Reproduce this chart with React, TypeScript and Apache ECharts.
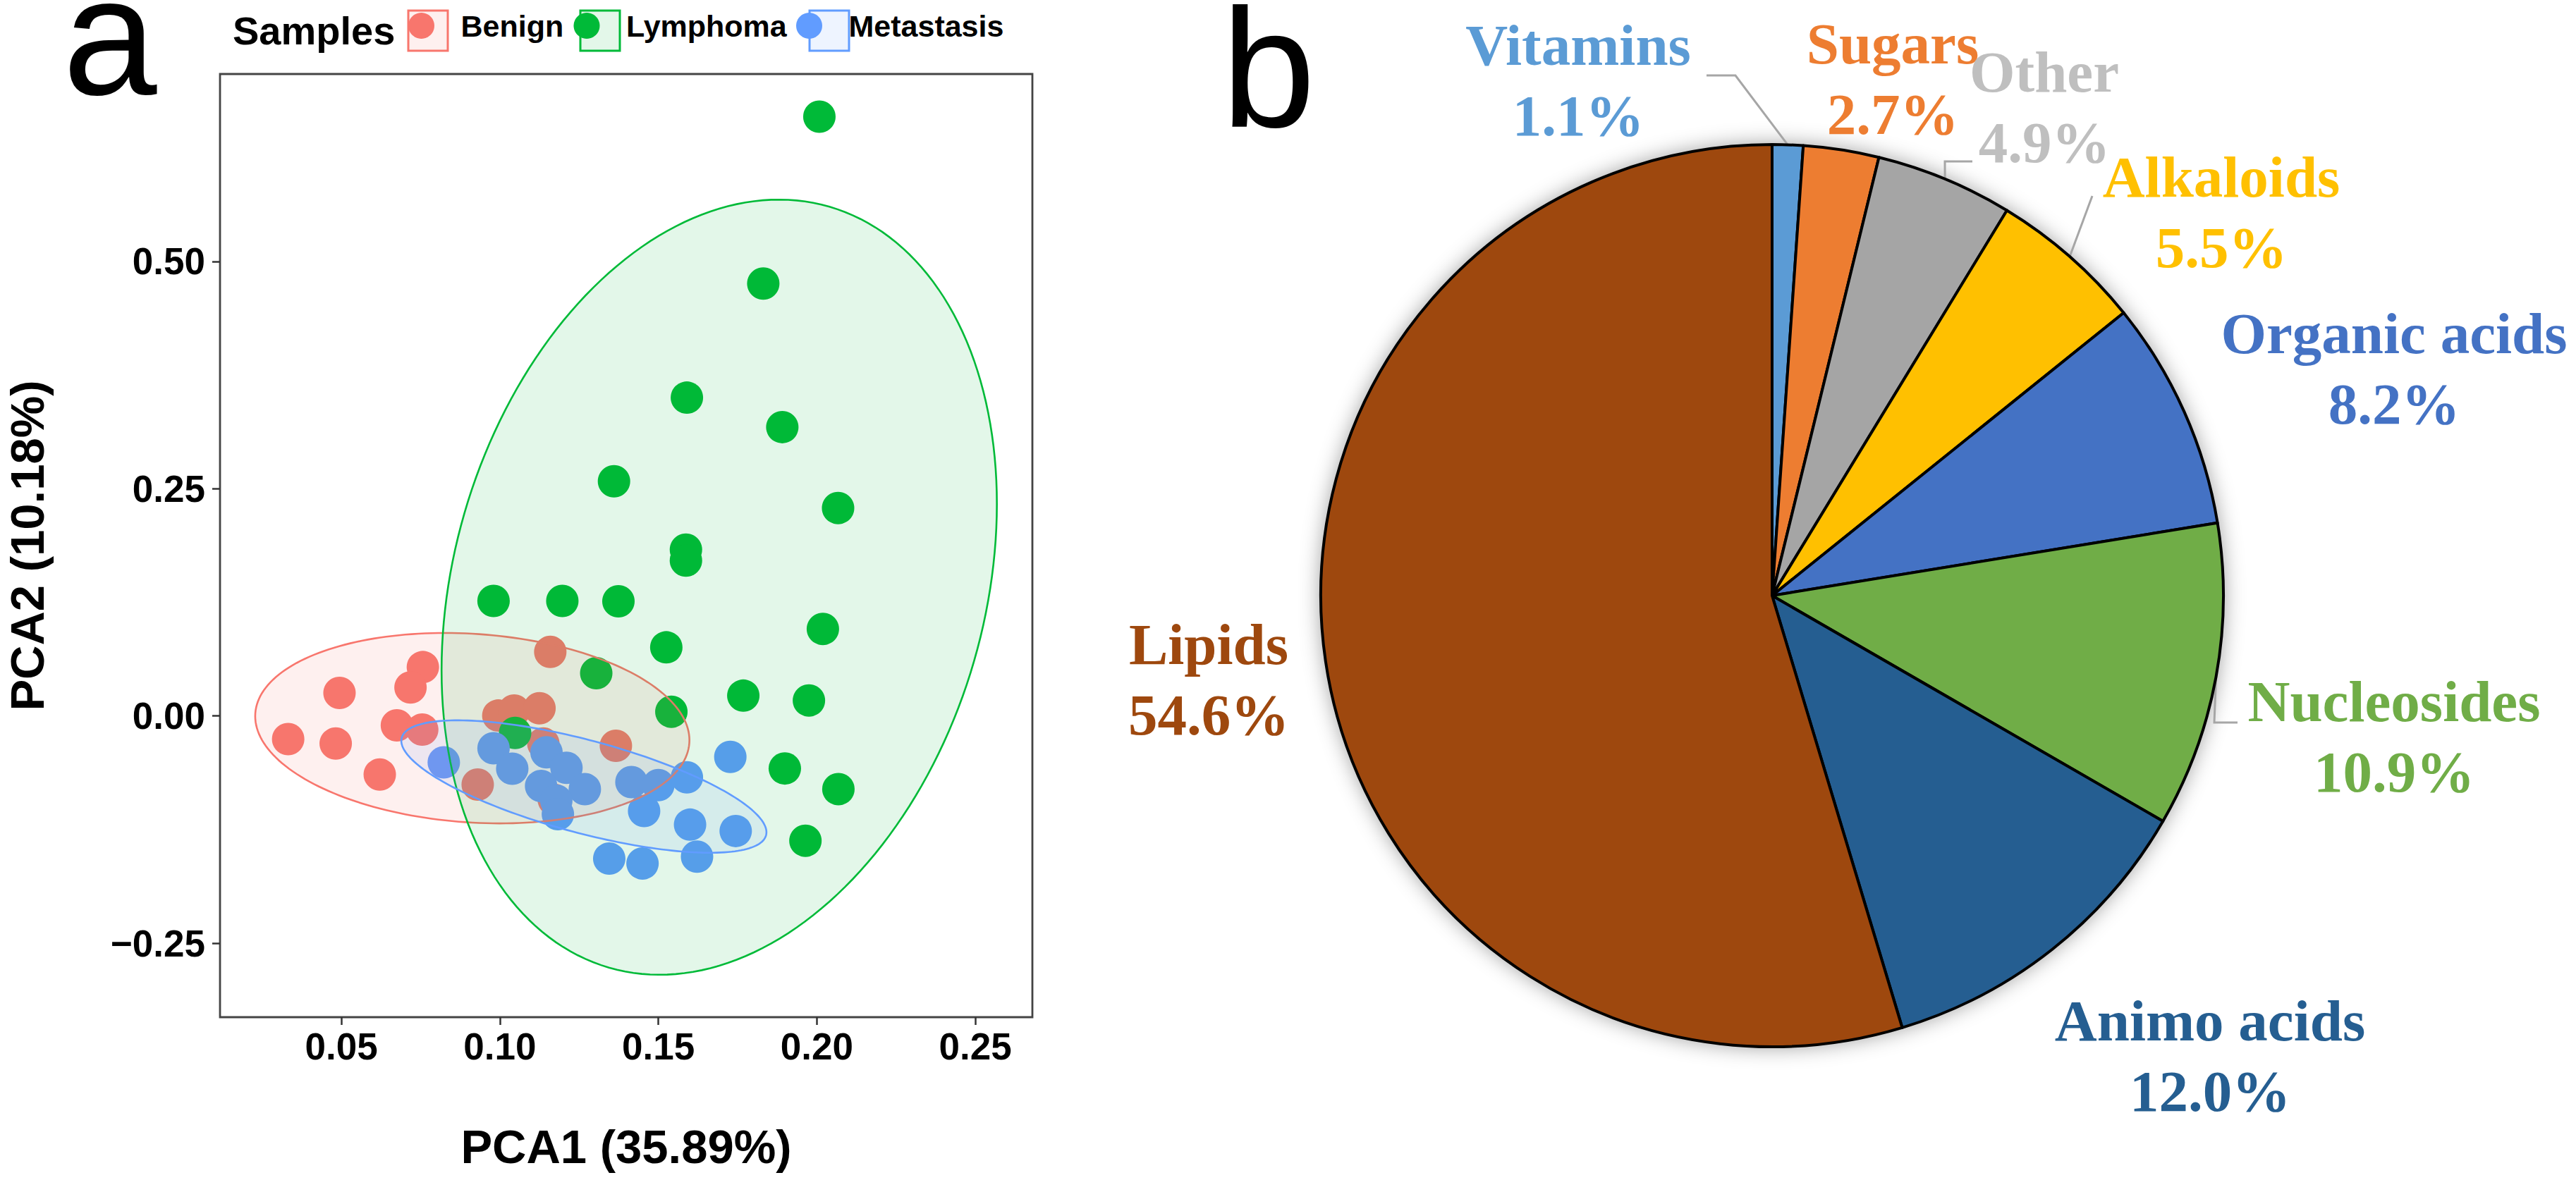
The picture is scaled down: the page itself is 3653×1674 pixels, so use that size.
import React, { useEffect, useRef } from 'react';
import * as echarts from 'echarts';

// ---------------- Panel a: PCA scatter ----------------
const GROUPS = ['Benign', 'Lymphoma', 'Metastasis'];
const GROUP_COLORS = ['#F8766D', '#00BA38', '#619CFF'];
const GROUP_FILLS = ['rgba(248,118,109,0.11)', 'rgba(0,186,56,0.11)', 'rgba(97,156,255,0.11)'];

const BENIGN = [
  [0.1159, 0.0705], [0.0757, 0.0538], [0.0718, 0.0314], [0.0494, 0.0254],
  [0.0332, -0.0254], [0.0482, -0.0303], [0.0621, -0.0644], [0.0675, -0.0103],
  [0.0755, -0.0150], [0.0930, -0.0754], [0.0995, 0.0005], [0.1045, 0.0060],
  [0.1125, 0.0085], [0.1137, -0.0303], [0.1366, -0.0328], [0.1170, -0.0920],
];
const LYMPHOMA = [
  [0.2008, 0.6593], [0.1831, 0.4757], [0.1590, 0.3502], [0.1891, 0.3178],
  [0.1360, 0.2582], [0.2067, 0.2288], [0.1587, 0.1830], [0.1587, 0.1710],
  [0.0980, 0.1266], [0.1197, 0.1266], [0.1374, 0.1262], [0.2019, 0.0958],
  [0.1525, 0.0755], [0.1304, 0.0471], [0.1768, 0.0224], [0.1975, 0.0171],
  [0.1541, 0.0047], [0.1048, -0.0186], [0.1899, -0.0577], [0.2068, -0.0804],
  [0.1964, -0.1372],
];
const METASTASIS = [
  [0.0823, -0.0510], [0.0980, -0.0355], [0.1147, -0.0400], [0.1039, -0.0580],
  [0.1210, -0.0570], [0.1268, -0.0805], [0.1130, -0.0770], [0.1178, -0.0930],
  [0.1183, -0.1080], [0.1415, -0.0727], [0.1500, -0.0760], [0.1590, -0.0675],
  [0.1455, -0.1045], [0.1600, -0.1195], [0.1727, -0.0450], [0.1744, -0.1265],
  [0.1345, -0.1569], [0.1450, -0.1622], [0.1622, -0.1547],
];
// confidence ellipses: centre x, centre y, conjugate radius U (x, y), conjugate radius V (x, y)
const ELLIPSE_BENIGN = [0.0913, -0.0134, 0.0685, -0.0132, 0, 0.1039];
const ELLIPSE_LYMPHOMA = [0.1692, 0.1417, 0.0876, 0.0915, 0, 0.4164];
const ELLIPSE_METASTASIS = [0.1265, -0.0776, 0.0576, -0.0503, 0, 0.0527];

const X_TICKS = [0.05, 0.1, 0.15, 0.2, 0.25];
const Y_TICKS = [-0.25, 0, 0.25, 0.5];
const X_RANGE = [0.0117, 0.268];
const Y_RANGE = [-0.3313, 0.7062];
const X_TITLE = 'PCA1 (35.89%)';
const Y_TITLE = 'PCA2 (10.18%)';
const LEGEND_TITLE = 'Samples';

// ---------------- Panel b: pie ----------------
const CLASSES = ['Vitamins', 'Sugars', 'Other', 'Alkaloids', 'Organic acids', 'Nucleosides', 'Animo acids', 'Lipids'];
const PERCENTS = [1.1, 2.7, 4.9, 5.5, 8.2, 10.9, 12.0, 54.6];
const SLICE_COLORS = ['#5B9BD5', '#ED7D31', '#A5A5A5', '#FFC000', '#4472C4', '#70AD47', '#255E91', '#9E480E'];
const LABEL_COLORS = ['#5B9BD5', '#ED7D31', '#BFBFBF', '#FFC000', '#4472C4', '#70AD47', '#255E91', '#9E480E'];

// layout constants
const W = 3653;
const H = 1674;
const GRID = { left: 312, top: 105, width: 1152, height: 1338 };
const PIE_CX = 2513;
const PIE_CY = 845;
const PIE_R = 640;
const LEGEND_LEFT = 579;
const LEGEND_TOP = 15;
const KEY_W = 56;
const KEY_H = 57;
const LEGEND_TEXT_W = [160, 241, 230];
const LEGEND_TEXT_PAD = 23;
// label centres relative to the pie centre
const LABEL_OFFSET = [
  [-275, -731], [171, -733], [386, -693], [637, -544],
  [882, -322], [882, 200], [621, 653], [-799, 119],
];
// leader line elbow and end relative to the pie centre (null = no leader)
const LEADER: any[] = [
  [[-52, -738], [-93, -738]],
  null,
  [[245, -616], [284, -616]],
  [[454, -567], [454, -567]],
  null,
  [[627, 180], [660, 180]],
  null,
  null,
];

const SANS = '"Liberation Sans", Arial, Helvetica, sans-serif';
const SERIF = '"Liberation Serif", "Times New Roman", serif';

function midAngle(i: number) {
  const total = PERCENTS.reduce((a, b) => a + b, 0);
  let cum = 0;
  for (let k = 0; k < i; k++) cum += PERCENTS[k];
  return ((cum + PERCENTS[i] / 2) / total) * Math.PI * 2;
}

function fmtTick(v: number) {
  return v < 0 ? '\u2212' + (-v).toFixed(2) : v.toFixed(2);
}

export default function App() {
  const ref = useRef<HTMLDivElement>(null);
  useEffect(() => {
    if (!ref.current) return;
    const chart = echarts.init(ref.current, undefined, { renderer: 'svg', width: W, height: H });

    const scatterData = [BENIGN, LYMPHOMA, METASTASIS];
    const ellipseData = [ELLIPSE_BENIGN, ELLIPSE_LYMPHOMA, ELLIPSE_METASTASIS];

    const rich: any = {};
    LEGEND_TEXT_W.forEach((w, i) => {
      rich['w' + i] = {
        width: w,
        lineHeight: KEY_H,
        fontSize: 43,
        fontWeight: 'bold',
        fontFamily: SANS,
        color: '#000',
        padding: [0, 0, 0, LEGEND_TEXT_PAD],
      };
    });

    // legend key boxes (x positions follow the legend's fixed item widths)
    const keyRects: any[] = [];
    let kx = LEGEND_LEFT;
    GROUPS.forEach((g, i) => {
      keyRects.push({
        type: 'rect',
        z: 1,
        shape: { x: kx, y: LEGEND_TOP, width: KEY_W, height: KEY_H },
        style: { fill: GROUP_FILLS[i], stroke: GROUP_COLORS[i], lineWidth: 3 },
      });
      kx += KEY_W + 5 + LEGEND_TEXT_PAD + LEGEND_TEXT_W[i];
    });

    const tickStyle = { color: '#333', width: 2.5 };
    const tickLabel = {
      formatter: (v: number) => fmtTick(v),
      fontSize: 53,
      fontWeight: 'bold',
      fontFamily: SANS,
      color: '#000',
    };
    const titleStyle = { fontSize: 67, fontWeight: 'bold', fontFamily: SANS, color: '#000', lineHeight: 62 };

    const option: any = {
      animation: false,
      backgroundColor: '#fff',
      grid: {
        ...GRID,
        show: true,
        borderColor: '#444',
        borderWidth: 2.8,
        backgroundColor: 'transparent',
      },
      xAxis: {
        type: 'value',
        min: X_RANGE[0],
        max: X_RANGE[1],
        position: 'bottom',
        axisLine: { show: false, onZero: false },
        splitLine: { show: false },
        axisTick: { show: true, customValues: X_TICKS, length: 11, lineStyle: tickStyle },
        axisLabel: { ...tickLabel, customValues: X_TICKS, margin: 15 },
        name: X_TITLE,
        nameLocation: 'middle',
        nameGap: 152,
        nameTextStyle: titleStyle,
      },
      yAxis: {
        type: 'value',
        min: Y_RANGE[0],
        max: Y_RANGE[1],
        position: 'left',
        axisLine: { show: false, onZero: false },
        splitLine: { show: false },
        axisTick: { show: true, customValues: Y_TICKS, length: 11, lineStyle: tickStyle },
        axisLabel: { ...tickLabel, customValues: Y_TICKS, margin: 21 },
        name: Y_TITLE,
        nameLocation: 'middle',
        nameGap: 243,
        nameTextStyle: titleStyle,
      },
      legend: {
        data: GROUPS,
        left: LEGEND_LEFT,
        top: LEGEND_TOP,
        orient: 'horizontal',
        padding: 0,
        itemGap: 0,
        itemWidth: KEY_W,
        itemHeight: 37,
        icon: 'circle',
        selectedMode: false,
        formatter: (name: string) => '{w' + GROUPS.indexOf(name) + '|' + name + '}',
        textStyle: { rich },
      },
      graphic: [
        {
          type: 'text',
          x: 89,
          y: 51,
          style: { text: 'a', font: '240px ' + SANS, fill: '#000', verticalAlign: 'middle', lineHeight: 100 },
        },
        {
          type: 'text',
          x: 1732,
          y: 97,
          style: { text: 'b', font: '240px ' + SANS, fill: '#000', verticalAlign: 'middle', lineHeight: 180 },
        },
        {
          type: 'text',
          x: 330,
          y: 43,
          style: { text: LEGEND_TITLE, font: 'bold 56px ' + SANS, fill: '#000', verticalAlign: 'middle' },
        },
        ...keyRects,
      ],
      series: [
        ...GROUPS.map((g, i) => ({
          type: 'scatter',
          name: g,
          data: scatterData[i],
          symbol: 'circle',
          symbolSize: 46,
          z: 2,
          itemStyle: { color: GROUP_COLORS[i], opacity: 1 },
          emphasis: { disabled: true },
        })),
        {
          type: 'custom',
          name: 'ellipses',
          z: 3,
          silent: true,
          data: ellipseData,
          renderItem: (params: any, api: any) => {
            const cx = api.value(0), cy = api.value(1);
            const ux = api.value(2), uy = api.value(3);
            const vx = api.value(4), vy = api.value(5);
            const pts: number[][] = [];
            const n = 200;
            for (let k = 0; k < n; k++) {
              const t = (k / n) * Math.PI * 2;
              pts.push(api.coord([cx + ux * Math.cos(t) + vx * Math.sin(t), cy + uy * Math.cos(t) + vy * Math.sin(t)]));
            }
            const i = params.dataIndex;
            return {
              type: 'polygon',
              shape: { points: pts },
              style: { fill: GROUP_FILLS[i], stroke: GROUP_COLORS[i], lineWidth: 2.6 },
            };
          },
        },
        {
          type: 'pie',
          name: 'shadow',
          center: [PIE_CX, PIE_CY],
          radius: PIE_R,
          silent: true,
          z: 1,
          label: { show: false },
          labelLine: { show: false },
          itemStyle: { color: '#fff', shadowBlur: 30, shadowColor: 'rgba(0,0,0,0.4)' },
          data: [{ value: 1, name: 'shadow' }],
        },
        {
          type: 'pie',
          name: 'classes',
          center: [PIE_CX, PIE_CY],
          radius: PIE_R,
          startAngle: 90,
          clockwise: true,
          z: 2,
          avoidLabelOverlap: false,
          silent: true,
          itemStyle: { borderColor: '#000', borderWidth: 4 },
          label: {
            show: true,
            position: 'outside',
            formatter: (p: any) => p.name + '\n' + Number(p.value).toFixed(1) + '%',
            fontFamily: SERIF,
            fontWeight: 'bold',
            fontSize: 83,
            lineHeight: 100,
          },
          labelLine: { show: true, lineStyle: { color: '#A6A6A6', width: 3 } },
          labelLayout: (params: any) => {
            const i = params.dataIndex;
            const off = LABEL_OFFSET[i];
            const res: any = {
              x: PIE_CX + off[0],
              y: PIE_CY + off[1],
              align: 'center',
              verticalAlign: 'middle',
            };
            const g = LEADER[i];
            if (g) {
              const a = midAngle(i);
              const sx = PIE_CX + PIE_R * Math.sin(a);
              const sy = PIE_CY - PIE_R * Math.cos(a);
              res.labelLinePoints = [
                [sx, sy],
                [PIE_CX + g[0][0], PIE_CY + g[0][1]],
                [PIE_CX + g[1][0], PIE_CY + g[1][1]],
              ];
            }
            return res;
          },
          data: CLASSES.map((c, i) => ({
            name: c,
            value: PERCENTS[i],
            itemStyle: { color: SLICE_COLORS[i] },
            label: { color: LABEL_COLORS[i] },
            labelLine: { show: !!LEADER[i] },
          })),
        },
      ],
    };

    chart.setOption(option);
    return () => chart.dispose();
  }, []);

  return (
    <div
      ref={ref}
      style={{ position: 'fixed', left: 0, top: 0, width: W + 'px', height: H + 'px', background: '#fff' }}
    />
  );
}
